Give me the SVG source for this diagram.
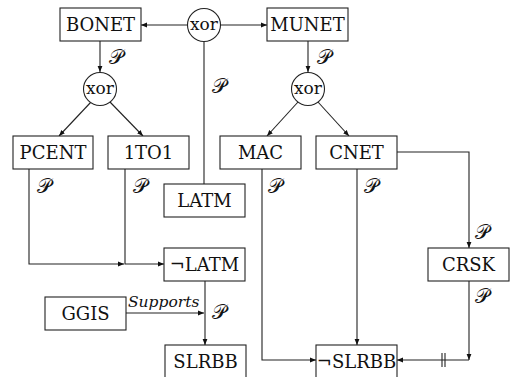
<svg xmlns="http://www.w3.org/2000/svg" width="511" height="377" viewBox="0 0 511 377">
  <style>
    .box { fill: #fff; stroke: #222; stroke-width: 1.1; }
    .gate { fill: #fff; stroke: #222; stroke-width: 1.1; }
    .lbl { font-family: 'DejaVu Serif', serif; font-size: 18px; fill: #111; text-anchor: middle; }
    .xor { font-family: 'DejaVu Serif', serif; font-size: 17px; fill: #111; text-anchor: middle; }
    .p { font-family: 'DejaVu Serif', 'DejaVu Sans', serif; font-size: 20px; fill: #111; }
    .it { font-family: 'DejaVu Serif', serif; font-size: 15.5px; font-style: italic; fill: #111; }
    .edge { fill: none; stroke: #222; stroke-width: 1.1; }
  </style>
  <defs>
    <marker id="arr" viewBox="0 0 10 10" refX="10" refY="5" markerWidth="6" markerHeight="6" markerUnits="userSpaceOnUse" orient="auto">
      <path d="M0,1 L10,5 L0,9 Z" fill="#111"/>
    </marker>
  </defs>

  <!-- connectors -->
  <g id="connectors">
    <line class="edge" x1="187" y1="25" x2="141" y2="25" marker-end="url(#arr)"/>
    <line class="edge" x1="221" y1="25" x2="267" y2="25" marker-end="url(#arr)"/>
    <line class="edge" x1="204" y1="42" x2="204" y2="184"/>
    <line class="edge" x1="100" y1="41" x2="100" y2="72" marker-end="url(#arr)"/>
    <line class="edge" x1="308" y1="41" x2="308" y2="72" marker-end="url(#arr)"/>
    <line class="edge" x1="91" y1="102" x2="59" y2="136" marker-end="url(#arr)"/>
    <line class="edge" x1="110" y1="102" x2="143" y2="136" marker-end="url(#arr)"/>
    <line class="edge" x1="298" y1="102" x2="267" y2="136" marker-end="url(#arr)"/>
    <line class="edge" x1="318" y1="102" x2="349" y2="136" marker-end="url(#arr)"/>
    <polyline class="edge" points="29,169 29,264 124,264" marker-end="url(#arr)"/>
    <polyline class="edge" points="125,169 125,264 164,264" marker-end="url(#arr)"/>
    <line class="edge" x1="205" y1="281" x2="205" y2="345" marker-end="url(#arr)"/>
    <line class="edge" x1="126" y1="313" x2="204" y2="313" marker-end="url(#arr)"/>
    <polyline class="edge" points="262,169 262,360 316,360" marker-end="url(#arr)"/>
    <line class="edge" x1="357" y1="169" x2="357" y2="345" marker-end="url(#arr)"/>
    <polyline class="edge" points="397,152 469,152 469,248" marker-end="url(#arr)"/>
    <line class="edge" x1="469" y1="281" x2="469" y2="360" marker-end="url(#arr)"/>
    <line class="edge" x1="469" y1="360" x2="397" y2="360" marker-end="url(#arr)"/>
    <line class="edge" x1="442" y1="353" x2="442" y2="367"/>
    <line class="edge" x1="445" y1="353" x2="445" y2="367"/>
    <!-- edge labels -->
    <text class="p" x="109" y="64">𝒫</text>
    <text class="p" x="317" y="64">𝒫</text>
    <text class="p" x="212" y="93">𝒫</text>
    <text class="p" x="37" y="193">𝒫</text>
    <text class="p" x="133" y="193">𝒫</text>
    <text class="p" x="268" y="193">𝒫</text>
    <text class="p" x="364" y="193">𝒫</text>
    <text class="p" x="475" y="239">𝒫</text>
    <text class="p" x="475" y="303">𝒫</text>
    <text class="p" x="212" y="319">𝒫</text>
    <text class="it" x="128" y="307">Supports</text>
  </g>

  <g id="xor-top">
    <circle class="gate" cx="204" cy="25" r="16.5"/>
    <text class="xor" x="204" y="30">xor</text>
  </g>
  <g id="xor-left">
    <circle class="gate" cx="100" cy="89" r="16.5"/>
    <text class="xor" x="100" y="94">xor</text>
  </g>
  <g id="xor-right">
    <circle class="gate" cx="308" cy="89" r="16.5"/>
    <text class="xor" x="308" y="94">xor</text>
  </g>

  <g id="BONET">
    <rect class="box" x="60" y="8" width="81" height="33"/>
    <text class="lbl" x="100.5" y="31">BONET</text>
  </g>
  <g id="MUNET">
    <rect class="box" x="267" y="8" width="81" height="33"/>
    <text class="lbl" x="307.5" y="31">MUNET</text>
  </g>
  <g id="PCENT">
    <rect class="box" x="13" y="136" width="80" height="33"/>
    <text class="lbl" x="53" y="159">PCENT</text>
  </g>
  <g id="ONE-TO-ONE">
    <rect class="box" x="108" y="136" width="81" height="33"/>
    <text class="lbl" x="148.5" y="159">1TO1</text>
  </g>
  <g id="MAC">
    <rect class="box" x="220" y="136" width="81" height="33"/>
    <text class="lbl" x="260.5" y="159">MAC</text>
  </g>
  <g id="CNET">
    <rect class="box" x="316" y="136" width="81" height="33"/>
    <text class="lbl" x="356.5" y="159">CNET</text>
  </g>
  <g id="LATM">
    <rect class="box" x="164" y="184" width="81" height="33"/>
    <text class="lbl" x="204.5" y="207">LATM</text>
  </g>
  <g id="NOT-LATM">
    <rect class="box" x="164" y="248" width="81" height="33"/>
    <text class="lbl" x="204.5" y="271">¬LATM</text>
  </g>
  <g id="CRSK">
    <rect class="box" x="428" y="248" width="81" height="33"/>
    <text class="lbl" x="468.5" y="271">CRSK</text>
  </g>
  <g id="GGIS">
    <rect class="box" x="45" y="297" width="81" height="33"/>
    <text class="lbl" x="85.5" y="320">GGIS</text>
  </g>
  <g id="SLRBB">
    <rect class="box" x="165" y="345" width="81" height="34"/>
    <text class="lbl" x="205.5" y="368">SLRBB</text>
  </g>
  <g id="NOT-SLRBB">
    <rect class="box" x="316" y="345" width="81" height="34"/>
    <text class="lbl" x="356.5" y="368">¬SLRBB</text>
  </g>
</svg>
